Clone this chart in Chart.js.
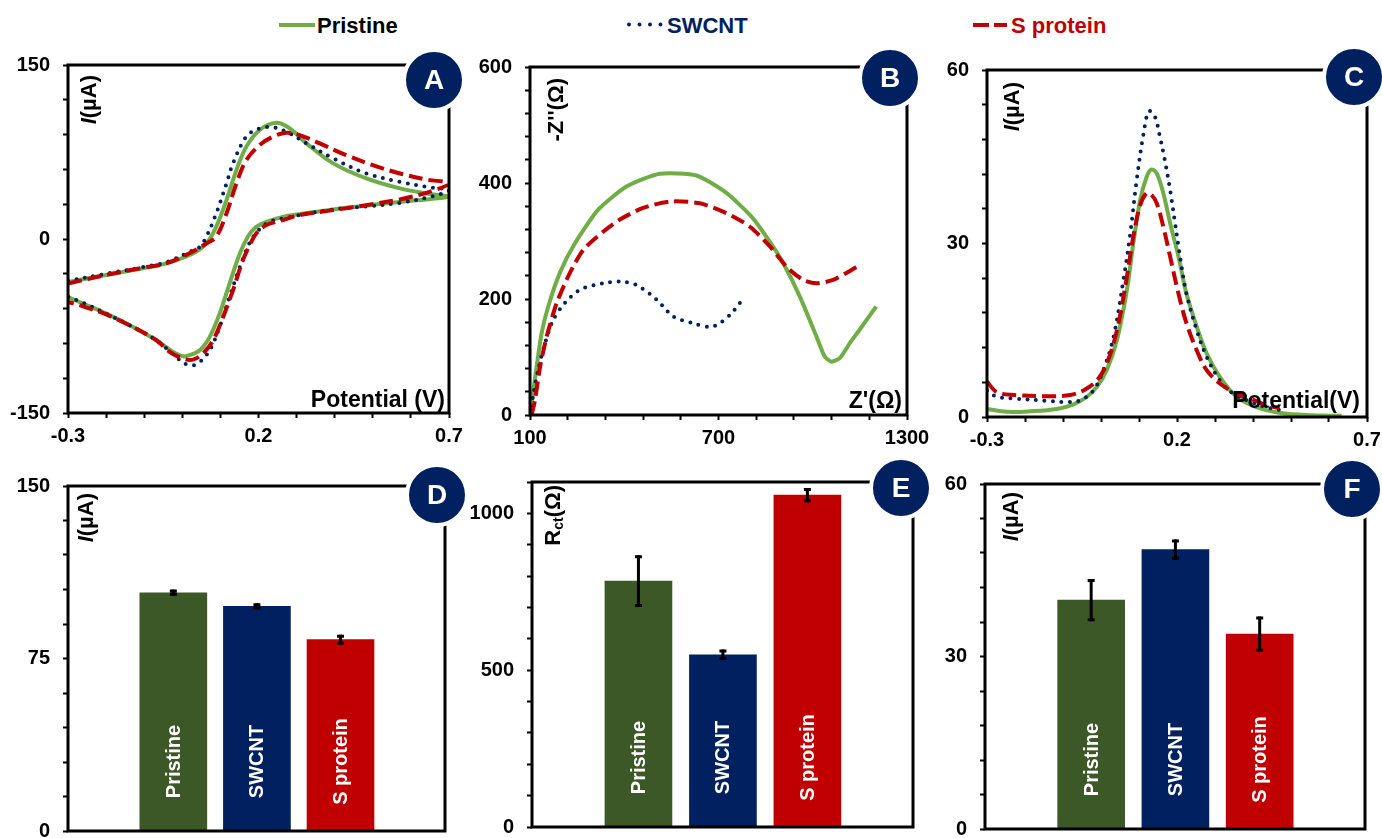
<!DOCTYPE html>
<html>
<head>
<meta charset="utf-8">
<title>Sensor characterisation</title>
<script src="https://cdn.jsdelivr.net/npm/chart.js@4.4.1/dist/chart.umd.min.js"></script>
<style>
  html, body { margin: 0; padding: 0; background: #fff; overflow: hidden; }
  body { width: 1382px; height: 838px; position: relative; }
  canvas { position: absolute; }
  #legend { position: absolute; left: 0; top: 0; }
</style>
</head>
<body>
<svg id="legend" width="1382" height="45" font-family="'Liberation Sans', Arial, sans-serif" font-weight="bold" font-size="22">
  <line x1="279" y1="25" x2="315" y2="25" stroke="#70AD47" stroke-width="4"/>
  <text x="317" y="33" fill="#000">Pristine</text>
  <line x1="629" y1="24.5" x2="663" y2="24.5" stroke="#002060" stroke-width="4" stroke-linecap="round" stroke-dasharray="0 10.5"/>
  <text x="667" y="33" fill="#002060">SWCNT</text>
  <line x1="973" y1="25" x2="1007" y2="25" stroke="#C00000" stroke-width="4" stroke-dasharray="16 5"/>
  <text x="1011" y="33" fill="#C00000">S protein</text>
</svg>
<canvas id="panel-a"></canvas>
<canvas id="panel-b"></canvas>
<canvas id="panel-c"></canvas>
<canvas id="panel-d"></canvas>
<canvas id="panel-e"></canvas>
<canvas id="panel-f"></canvas>
<script>
const FONT = "'Liberation Sans', Arial, sans-serif";
const GREEN = '#70AD47', NAVY = '#002060', RED = '#C00000', BAR_GREEN = '#3B5826';

// A - cyclic voltammograms (potential V, current uA)
const cvPristineE = [-0.3, -0.2, -0.1, -0.042, 0.028, 0.063, 0.089, 0.116, 0.142, 0.168, 0.203, 0.247, 0.282, 0.326, 0.396, 0.483, 0.571, 0.64, 0.7,
  0.6, 0.5, 0.396, 0.308, 0.264, 0.221, 0.194, 0.172, 0.151, 0.124, 0.098, 0.072, 0.046, 0.019, 0.002, -0.024, -0.068, -0.129, -0.199, -0.261, -0.3];
const cvPristineI = [-37, -31, -25, -21, -12.5, -3.9, 10.5, 33.5, 59.4, 79.5, 94, 100.2, 95.4, 82.4, 65.2, 52.2, 43.6, 39.3, 36.4,
  33, 29.5, 25.5, 21.4, 19.1, 14.8, 10.5, 1.9, -12.5, -38.4, -64.3, -84.4, -95.9, -100.2, -101.1, -97.3, -87.3, -75.8, -64.3, -55.6, -50];
const cvSwcntE = [-0.3, -0.2, -0.1, -0.042, 0.02, 0.046, 0.063, 0.089, 0.116, 0.133, 0.168, 0.203, 0.238, 0.273, 0.326, 0.396, 0.483, 0.571, 0.64, 0.7,
  0.66, 0.571, 0.483, 0.396, 0.264, 0.221, 0.186, 0.168, 0.151, 0.124, 0.098, 0.072, 0.046, 0.028, 0.006, -0.016, -0.068, -0.129, -0.2, -0.261, -0.3];
const cvSwcntI = [-36, -30, -24, -20, -11, -6.7, 1.9, 22, 47.9, 65.2, 88.2, 95.4, 96.2, 92.5, 82.4, 69.5, 56.5, 49.3, 45, 42,
  37, 31.2, 28, 25.5, 17.7, 13.4, 1.9, -9.6, -24, -49.9, -75.8, -95.9, -106, -108.9, -107.4, -101.7, -87.3, -76, -64.3, -55, -50];
const cvSproteinE = [-0.3, -0.2, -0.1, -0.042, 0.02, 0.063, 0.089, 0.116, 0.142, 0.168, 0.203, 0.238, 0.273, 0.308, 0.361, 0.43, 0.5, 0.571, 0.64, 0.7,
  0.649, 0.571, 0.483, 0.396, 0.308, 0.264, 0.221, 0.194, 0.177, 0.159, 0.133, 0.107, 0.081, 0.054, 0.028, 0.002, -0.033, -0.068, -0.129, -0.2, -0.261, -0.3];
const cvSproteinI = [-38.4, -31, -24.5, -21, -12, -3.9, 1.9, 22, 47.9, 68, 81, 88.2, 91.6, 89.6, 82.4, 72.3, 63.7, 56.5, 51.3, 47.9,
  40.7, 34.1, 29.2, 24.9, 20.6, 16.3, 12, 4.8, -5.3, -18.3, -44.2, -67.2, -87.3, -98.8, -104, -103.1, -97.3, -87.3, -76, -65, -58, -54.2];
const cvPotentialTicks = [-0.3, 0.2, 0.7];
const cvCurrentTicks = [-150, 0, 150];

// B - Nyquist plots (Z' ohm, -Z'' ohm)
const eisPristineRe = [100, 121, 137, 158, 195, 243, 317, 407, 513, 630, 725, 805, 863, 906, 959, 1012, 1038, 1059, 1086, 1118, 1149, 1202];
const eisPristineIm = [0, 83, 141, 187, 245, 296, 354, 394, 416, 413, 383, 342, 299, 262, 204, 135, 101, 92, 98, 124, 147, 187];
const eisSwcntRe = [100, 111, 126, 148, 174, 211, 259, 333, 386, 439, 503, 556, 619, 672, 704, 741, 768, 784];
const eisSwcntIm = [0, 37, 78, 124, 164, 193, 216, 227, 230, 224, 199, 170, 158, 152, 158, 175, 193, 204];
const eisSproteinRe = [105, 116, 132, 153, 185, 227, 270, 333, 386, 460, 545, 641, 725, 799, 863, 916, 969, 1012, 1065, 1107, 1144];
const eisSproteinIm = [0, 26, 83, 135, 193, 245, 285, 316, 337, 357, 368, 365, 348, 325, 291, 256, 233, 227, 233, 245, 257];
const eisReTicks = [100, 700, 1300];
const eisImTicks = [0, 200, 400, 600];

// C - differential pulse voltammograms
const dpvPristineE = [-0.3, -0.247, -0.186, -0.116, -0.072, -0.037, -0.011, 0.015, 0.042, 0.068, 0.085, 0.103, 0.12, 0.133, 0.147, 0.164, 0.182, 0.204, 0.225, 0.252, 0.278, 0.313, 0.357, 0.409, 0.471, 0.558, 0.633];
const dpvPristineI = [1.4, 0.9, 1.0, 1.4, 2.2, 3.5, 5.2, 8.1, 13.3, 21.9, 30, 37.5, 41.5, 42.8, 42.1, 38.7, 33.5, 27.7, 21.3, 15.6, 11, 6.9, 3.5, 1.7, 0.7, 0.3, 0.2];
const dpvSwcntE = [-0.3, -0.274, -0.23, -0.142, -0.09, -0.055, -0.02, 0.006, 0.033, 0.059, 0.077, 0.094, 0.112, 0.126, 0.142, 0.155, 0.168, 0.182, 0.195, 0.208, 0.225, 0.252, 0.278, 0.313, 0.348, 0.383, 0.43, 0.47];
const dpvSwcntI = [4.6, 3.5, 3.2, 2.8, 2.6, 2.9, 4.6, 8.1, 13.8, 23.7, 31.7, 41, 49, 52.9, 51.9, 48.5, 44.4, 39.2, 33.5, 27.7, 21.3, 15, 10.4, 6.3, 4, 2.9, 1.8, 1.2];
const dpvSproteinE = [-0.3, -0.274, -0.23, -0.142, -0.081, -0.046, -0.011, 0.015, 0.042, 0.068, 0.085, 0.103, 0.12, 0.133, 0.147, 0.164, 0.182, 0.204, 0.225, 0.252, 0.278, 0.313, 0.357, 0.392, 0.43, 0.47];
const dpvSproteinI = [6.1, 4.3, 3.8, 3.6, 3.8, 4.6, 6.3, 9.2, 15, 24.2, 31.2, 36.6, 38.7, 38.4, 36.9, 32.9, 27.7, 21.3, 16.2, 11.5, 8.1, 5.8, 4, 3.2, 2.2, 1.5];
const dpvCurrentTicks = [0, 30, 60];

// D-F - summary bars
const samples = ['Pristine', 'SWCNT', 'S protein'];
const barColors = [BAR_GREEN, NAVY, RED];
const cvPeak = [103.6, 97.7, 83.2];
const cvPeakErr = [0.7, 0.7, 1.5];
const rct = [784, 549, 1058];
const rctErr = [78, 12, 18];
const dpvPeak = [39.8, 48.6, 33.9];
const dpvPeakErr = [3.4, 1.5, 2.8];
const cvPeakTicks = [0, 75, 150];
const rctTicks = [0, 500, 1000];

const PAD = 25, YW = 68, XH = 36;
const TICK_FONT = { family: FONT, size: 20, weight: 'bold' };

const styles = {
  'Pristine': { borderColor: GREEN, borderWidth: 4 },
  'SWCNT': { borderColor: NAVY, borderWidth: 4, borderDash: [0, 8.5], borderCapStyle: 'round' },
  'S protein': { borderColor: RED, borderWidth: 4, borderDash: [14, 6] },
};

function pts(xs, ys) {
  return xs.map((x, i) => ({ x, y: ys[i] }));
}

function place(id, area, xh) {
  const canvas = document.getElementById(id);
  const left = area.l - YW, top = area.t - PAD;
  const w = area.r - left + PAD;
  const h = xh ? area.b - top + xh : 838 - top;
  canvas.width = w;
  canvas.height = h;
  canvas.style.left = left + 'px';
  canvas.style.top = top + 'px';
  return { canvas, padding: { left: 0, top: PAD, right: PAD, bottom: h - PAD - (area.b - area.t) - xh } };
}

function fitTo(prop, size) {
  return scale => {
    scale[prop] = size;
    scale.paddingTop = scale.paddingBottom = scale.paddingLeft = scale.paddingRight = 0;
  };
}

function axis(min, max, step, labels, padding, fit) {
  return {
    type: 'linear', min, max, offset: false,
    border: { display: false },
    grid: { drawOnChartArea: false, drawTicks: true, tickLength: 5, tickWidth: 2, tickColor: '#000' },
    ticks: {
      stepSize: step, autoSkip: false, maxRotation: 0, minRotation: 0, padding,
      color: '#000', font: TICK_FONT,
      callback: v => {
        const l = labels.find(t => Math.abs(t - v) < step / 100);
        return l === undefined ? '' : String(l);
      },
    },
    afterFit: fit,
  };
}

function drawVertical(ctx, parts, x, yTop) {
  ctx.save();
  let total = 0;
  parts.forEach(p => { ctx.font = p.font; p.w = ctx.measureText(p.text).width; total += p.w; });
  ctx.translate(x, yTop + total);
  ctx.rotate(-Math.PI / 2);
  ctx.textBaseline = 'middle';
  ctx.textAlign = 'left';
  ctx.fillStyle = '#000';
  let pos = 0;
  parts.forEach(p => {
    ctx.font = p.font;
    ctx.fillText(p.text, pos, p.dy || 0);
    pos += p.w;
  });
  ctx.restore();
}

function decor(d) {
  return {
    id: 'decor',
    afterDraw(chart) {
      const { ctx, chartArea: a } = chart;
      ctx.save();
      ctx.strokeStyle = '#000';
      ctx.lineWidth = 3;
      ctx.lineJoin = 'miter';
      ctx.strokeRect(a.left, a.top, a.right - a.left, a.bottom - a.top);

      drawVertical(ctx, d.yTitle, a.left + d.ytx, a.top + d.yty);

      if (d.xTitle) {
        ctx.font = `bold 23px ${FONT}`;
        ctx.fillStyle = '#000';
        ctx.textAlign = 'right';
        ctx.textBaseline = 'alphabetic';
        ctx.fillText(d.xTitle, a.right - d.xtx, a.bottom - d.xty);
      }

      const cx = a.right + d.bdx, cy = a.top + d.bdy;
      ctx.beginPath();
      ctx.arc(cx, cy, 30, 0, Math.PI * 2);
      ctx.fillStyle = NAVY;
      ctx.fill();
      ctx.lineWidth = 4;
      ctx.strokeStyle = '#fff';
      ctx.stroke();
      ctx.fillStyle = '#fff';
      ctx.font = `bold 28px ${FONT}`;
      ctx.textAlign = 'center';
      ctx.textBaseline = 'middle';
      ctx.fillText(d.badge, cx, cy + 1);
      ctx.restore();
    },
  };
}

const I_UA = [
  { text: 'I', font: `italic bold 22px ${FONT}` },
  { text: '(\u00B5A)', font: `bold 22px ${FONT}` },
];

function lineChart(id, area, series, xs, ys, d) {
  const { canvas, padding } = place(id, area, XH);
  new Chart(canvas, {
    type: 'scatter',
    data: {
      datasets: series.map(s => ({
        label: s.name,
        data: pts(s.x, s.y),
        showLine: true,
        fill: false,
        pointRadius: 0,
        tension: s.tension,
        ...styles[s.name],
      })),
    },
    options: {
      responsive: false,
      animation: false,
      events: [],
      layout: { padding },
      plugins: { legend: { display: false }, tooltip: { enabled: false } },
      scales: {
        x: axis(xs.min, xs.max, xs.step, xs.labels, 6, fitTo('height', XH)),
        y: axis(ys.min, ys.max, ys.step, ys.labels, 13, fitTo('width', YW)),
      },
    },
    plugins: [decor(d)],
  });
}

function errorBars(errs) {
  return {
    id: 'errorBars',
    afterDatasetsDraw(chart) {
      const { ctx, scales: { y } } = chart;
      const meta = chart.getDatasetMeta(0);
      const vals = chart.data.datasets[0].data;
      ctx.save();
      meta.data.forEach((bar, i) => {
        ctx.fillStyle = '#fff';
        ctx.font = `bold 20px ${FONT}`;
        ctx.textAlign = 'center';
        ctx.textBaseline = 'middle';
        ctx.save();
        ctx.translate(bar.x + 1, bar.base - 69);
        ctx.rotate(-Math.PI / 2);
        ctx.fillText(samples[i], 0, 0);
        ctx.restore();

        const top = y.getPixelForValue(vals[i].y + errs[i]);
        const bot = y.getPixelForValue(vals[i].y - errs[i]);
        ctx.strokeStyle = '#000';
        ctx.lineWidth = 3;
        ctx.beginPath();
        ctx.moveTo(bar.x, top - 1.5);
        ctx.lineTo(bar.x, bot + 1.5);
        ctx.stroke();
        ctx.beginPath();
        ctx.moveTo(bar.x - 3.5, top);
        ctx.lineTo(bar.x + 3.5, top);
        ctx.moveTo(bar.x - 3.5, bot);
        ctx.lineTo(bar.x + 3.5, bot);
        ctx.stroke();
      });
      ctx.restore();
    },
  };
}

function barChart(id, area, values, errs, ys, d) {
  const { canvas, padding } = place(id, area, 0);
  new Chart(canvas, {
    type: 'bar',
    data: {
      datasets: [{
        data: values.map((v, i) => ({ x: i + 1, y: v })),
        backgroundColor: barColors,
        borderWidth: 0,
        barThickness: 67,
      }],
    },
    options: {
      responsive: false,
      animation: false,
      events: [],
      layout: { padding },
      plugins: { legend: { display: false }, tooltip: { enabled: false } },
      scales: {
        x: { type: 'linear', min: -0.26, max: 4.25, offset: false, display: false },
        y: axis(ys.min, ys.max, ys.step, ys.labels, 13, fitTo('width', YW)),
      },
    },
    plugins: [errorBars(errs), decor(d)],
  });
}

lineChart('panel-a', { l: 68, r: 449, t: 65, b: 413 }, [
  { name: 'S protein', x: cvSproteinE, y: cvSproteinI, tension: 0.35 },
  { name: 'SWCNT', x: cvSwcntE, y: cvSwcntI, tension: 0.35 },
  { name: 'Pristine', x: cvPristineE, y: cvPristineI, tension: 0.35 },
], { min: -0.3, max: 0.7, step: 0.1, labels: cvPotentialTicks },
   { min: -150, max: 150, step: 30, labels: cvCurrentTicks },
   { badge: 'A', bdx: -15, bdy: 15, yTitle: I_UA, ytx: 22, yty: 10, xTitle: 'Potential (V)', xtx: 4, xty: 6 });

lineChart('panel-b', { l: 530, r: 907, t: 67, b: 415 }, [
  { name: 'S protein', x: eisSproteinRe, y: eisSproteinIm, tension: 0.25 },
  { name: 'SWCNT', x: eisSwcntRe, y: eisSwcntIm, tension: 0.3 },
  { name: 'Pristine', x: eisPristineRe, y: eisPristineIm, tension: 0.2 },
], { min: 100, max: 1300, step: 120, labels: eisReTicks },
   { min: 0, max: 600, step: 40, labels: eisImTicks },
   { badge: 'B', bdx: -17, bdy: 11, yTitle: [{ text: "-Z''(\u03A9)", font: `bold 22px ${FONT}` }], ytx: 27, yty: 11, xTitle: "Z'(\u03A9)", xtx: 5, xty: 7 });

lineChart('panel-c', { l: 987, r: 1367, t: 70, b: 417 }, [
  { name: 'S protein', x: dpvSproteinE, y: dpvSproteinI, tension: 0.35 },
  { name: 'SWCNT', x: dpvSwcntE, y: dpvSwcntI, tension: 0.35 },
  { name: 'Pristine', x: dpvPristineE, y: dpvPristineI, tension: 0.35 },
], { min: -0.3, max: 0.7, step: 0.1, labels: cvPotentialTicks },
   { min: 0, max: 60, step: 6, labels: dpvCurrentTicks },
   { badge: 'C', bdx: -13, bdy: 7, yTitle: I_UA, ytx: 26, yty: 12, xTitle: 'Potential(V)', xtx: 7, xty: 9 });

barChart('panel-d', { l: 68, r: 445, t: 486, b: 831 }, cvPeak, cvPeakErr,
  { min: 0, max: 150, step: 15, labels: cvPeakTicks },
  { badge: 'D', bdx: -8, bdy: 9, yTitle: I_UA, ytx: 19, yty: 7 });

barChart('panel-e', { l: 532, r: 913, t: 482, b: 827 }, rct, rctErr,
  { min: 0, max: 1100, step: 100, labels: rctTicks },
  { badge: 'E', bdx: -12, bdy: 6, ytx: 22, yty: 3, yTitle: [
    { text: 'R', font: `bold 22px ${FONT}` },
    { text: 'ct', font: `bold 14px ${FONT}`, dy: 5 },
    { text: '(\u03A9)', font: `bold 22px ${FONT}` },
  ] });

barChart('panel-f', { l: 985, r: 1365, t: 484, b: 829 }, dpvPeak, dpvPeakErr,
  { min: 0, max: 60, step: 6, labels: dpvCurrentTicks },
  { badge: 'F', bdx: -13, bdy: 5, yTitle: I_UA, ytx: 27, yty: 8 });
</script>
</body>
</html>
